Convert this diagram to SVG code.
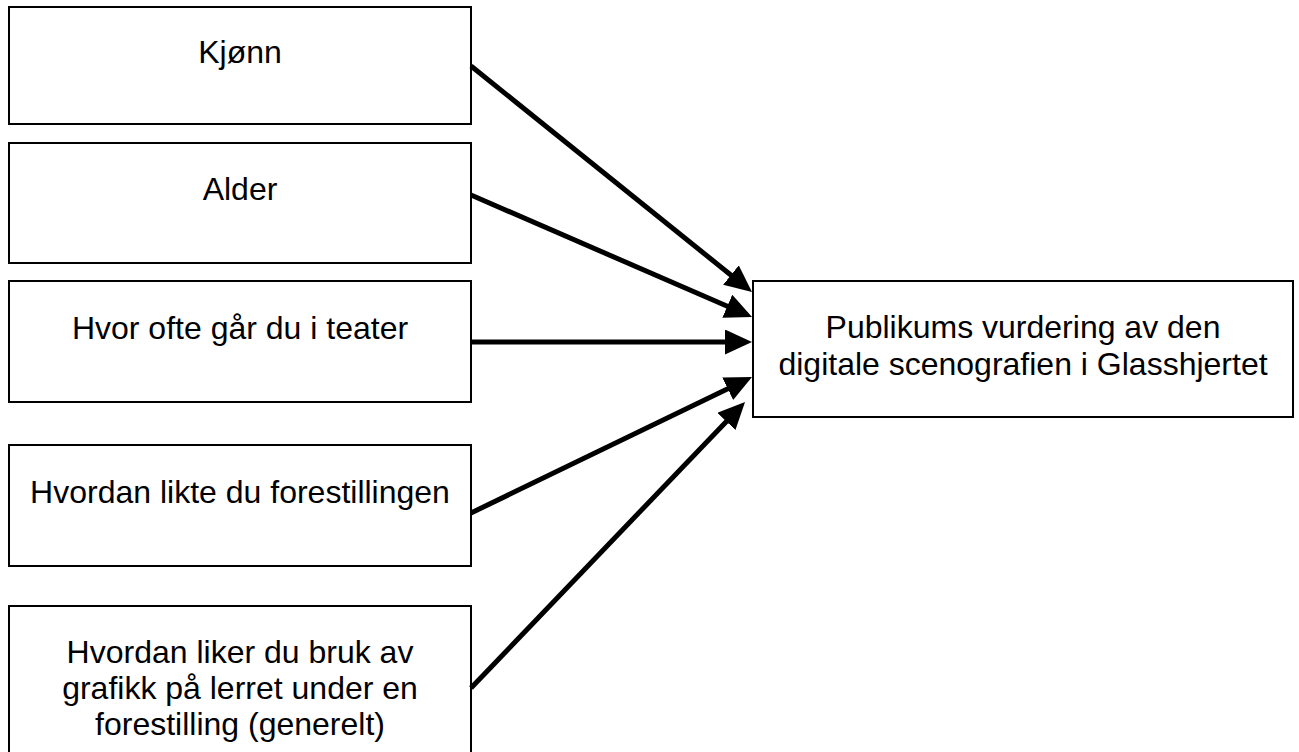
<svg xmlns="http://www.w3.org/2000/svg" width="1299" height="752" viewBox="0 0 1299 752">
<style>
.box{fill:#fff;stroke:#000;stroke-width:2}
.t{font-family:"Liberation Sans",Arial,sans-serif;font-size:32px;fill:#000;text-anchor:middle}
.c{stroke:#000;stroke-width:5;fill:none}
</style>
<defs>
<marker id="ah" markerUnits="userSpaceOnUse" markerWidth="27" markerHeight="25" refX="7" refY="12.5" orient="auto" viewBox="0 0 27 25">
<path d="M0,0 L27,12.5 L0,25 z" fill="#000"/>
</marker>
</defs>
<rect width="1299" height="752" fill="#fff"/>
<g id="n1"><rect class="box" x="9" y="7" width="462" height="117"/><text class="t" x="240" y="63">Kjønn</text></g>
<g id="n2"><rect class="box" x="9" y="143" width="462" height="120"/><text class="t" x="240" y="200">Alder</text></g>
<g id="n3"><rect class="box" x="9" y="281" width="462" height="121"/><text class="t" x="240" y="339">Hvor ofte går du i teater</text></g>
<g id="n4"><rect class="box" x="9" y="445" width="462" height="121"/><text class="t" x="240" y="503">Hvordan likte du forestillingen</text></g>
<g id="n5"><rect class="box" x="9" y="606" width="462" height="160"/><text class="t" x="240" y="663">Hvordan liker du bruk av</text><text class="t" x="240" y="699">grafikk på lerret under en</text><text class="t" x="240" y="735">forestilling (generelt)</text></g>
<g id="target"><rect class="box" x="753" y="281" width="540" height="136"/><text class="t" x="1023" y="338">Publikums vurdering av den</text><text class="t" x="1023" y="375">digitale scenografien i Glasshjertet</text></g>
<g id="connectors">
<line class="c" x1="471" y1="66" x2="736.4" y2="279.5" marker-end="url(#ah)"/>
<line class="c" x1="471" y1="195" x2="733.7" y2="309" marker-end="url(#ah)"/>
<line class="c" x1="471" y1="342" x2="732" y2="342" marker-end="url(#ah)"/>
<line class="c" x1="471" y1="513" x2="734" y2="385.7" marker-end="url(#ah)"/>
<line class="c" x1="471" y1="688" x2="731.2" y2="416.4" marker-end="url(#ah)"/>
</g>
</svg>
